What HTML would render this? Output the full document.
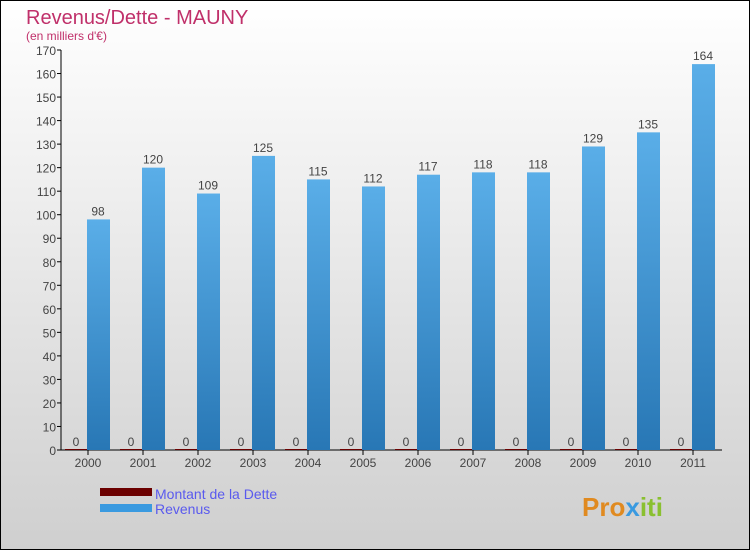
<!DOCTYPE html>
<html><head><meta charset="utf-8"><style>
body{margin:0}
#c{width:748px;height:548px;border:1px solid #000;background:linear-gradient(#fff,#cfcfcf);position:relative;font-family:"Liberation Sans",sans-serif}
svg{position:absolute;left:-1px;top:-1px}
</style></head><body>
<div id="c">
<svg id="s" width="750" height="550">
<defs><linearGradient id="g" x1="0" y1="0" x2="0" y2="1"><stop offset="0" stop-color="#5aaee8"/><stop offset="1" stop-color="#2877b5"/></linearGradient></defs>
<text x="26" y="24" font-size="20" fill="#c0306a">Revenus/Dette - MAUNY</text>
<text x="26" y="40" font-size="12" fill="#c0306a">(en milliers d'€)</text>
<g id="plot"></g>
<rect x="100" y="488" width="52" height="8" fill="#6b0000"/>
<text x="155" y="499" font-size="14" fill="#5a5aee">Montant de la Dette</text>
<rect x="100" y="504" width="52" height="8" fill="#3a9ae0"/>
<text x="155" y="514" font-size="14" fill="#5a5aee">Revenus</text>
<text x="582" y="516" font-size="26" font-weight="bold" fill="#e08a20">Pro<tspan fill="#3a9ae0">x</tspan><tspan fill="#8ac030">iti</tspan></text>
</svg></div>
<script>
const years=["2000","2001","2002","2003","2004","2005","2006","2007","2008","2009","2010","2011"];
const revenus=[98,120,109,125,115,112,117,118,118,129,135,164];
const dette=[0,0,0,0,0,0,0,0,0,0,0,0];
const yTicks=[0,10,20,30,40,50,60,70,80,90,100,110,120,130,140,150,160,170];
const NS="http://www.w3.org/2000/svg";
const p=document.getElementById('plot');
const y=v=>450-v*400/170;
const x=i=>88+55*i;
function mk(t,a){const e=document.createElementNS(NS,t);for(const k in a)e.setAttribute(k,a[k]);p.appendChild(e);return e;}
let ax=mk('line',{x1:61,y1:50,x2:61,y2:450,stroke:'#000'});


let bx=mk('line',{x1:61,y1:450,x2:722,y2:450,stroke:'#000'});


yTicks.forEach(v=>{
 const l=mk('line',{x1:57,x2:61,y1:y(v),y2:y(v),stroke:'#000'});
 
 
 const t=mk('text',{x:56,y:y(v)+5,'text-anchor':'end','font-size':12,fill:'#444'});
 t.textContent=v;
 
 
});
years.forEach((yr,i)=>{
 const c=x(i);
 const tk=mk('line',{x1:c,x2:c,y1:450,y2:455,stroke:'#000'});
 
 
 const t=mk('text',{x:c,y:467,'text-anchor':'middle','font-size':12,fill:'#444'});
 t.textContent=yr;
 
 
 const hd=450-y(dette[i]);
 const d=mk('rect',{x:c-23,y:y(dette[i])-1,width:22,height:hd+1,fill:'#6b0000'});
 
 
 const dl=mk('text',{x:c-12,y:y(dette[i])-4,'text-anchor':'middle','font-size':12,fill:'#444'});
 dl.textContent=dette[i];
 
 
 const r=mk('rect',{x:c-1,y:y(revenus[i]),width:23,height:450-y(revenus[i]),fill:'url(#g)'});
 
 
 const rl=mk('text',{x:c+10,y:y(revenus[i])-4,'text-anchor':'middle','font-size':12,fill:'#444'});
 rl.textContent=revenus[i];
 
 
});
</script>
</body></html>
